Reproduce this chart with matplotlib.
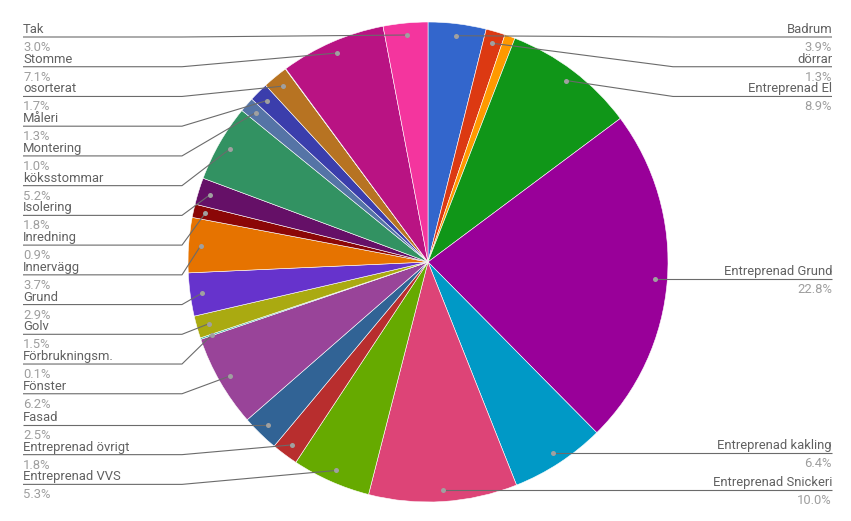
import matplotlib.pyplot as plt
import numpy as np

# slices in drawing order, clockwise from 12 o'clock
labels = ['Badrum', 'dörrar', '', 'Entreprenad El', 'Entreprenad Grund',
          'Entreprenad kakling', 'Entreprenad Snickeri', 'Entreprenad VVS',
          'Entreprenad övrigt', 'Fasad', 'Fönster', 'Förbrukningsm.', 'Golv',
          'Grund', 'Innervägg', 'Inredning', 'Isolering', 'köksstommar',
          'Montering', 'Måleri', 'osorterat', '', 'Stomme', 'Tak']
shares = [3.9, 1.3, 0.7, 8.9, 22.8, 6.4, 10.0, 5.3, 1.8, 2.5, 6.2, 0.1, 1.5,
          2.9, 3.7, 0.9, 1.8, 5.2, 1.0, 1.3, 1.7, 0.03, 7.1, 3.0]
colors = ['#3366cc', '#dc3912', '#ff9900', '#109618', '#990099', '#0099c6',
          '#dd4477', '#66aa00', '#b82e2e', '#316395', '#994499', '#22aa99',
          '#aaaa11', '#6633cc', '#e67300', '#8b0707', '#651067', '#329262',
          '#5574a6', '#3b3eac', '#b77322', '#16d620', '#b91383', '#f4359e']

W, H = 851, 521
cx, cy, R = 428, H - 262, 240
gap = 29.73
top_line = H - 37

plt.rcParams['font.family'] = ['Roboto', 'DejaVu Sans']
fig = plt.figure(figsize=(W / 100, H / 100), dpi=100)
ax = fig.add_axes([0, 0, 1, 1])
ax.set_xlim(0, W)
ax.set_ylim(0, H)
ax.axis('off')

wedges, _ = ax.pie(shares, colors=colors, startangle=90, counterclock=False,
                   center=(cx, cy), radius=R,
                   wedgeprops=dict(edgecolor='white', linewidth=0.4))
ax.set_xlim(0, W)
ax.set_ylim(0, H)
ax.set_aspect('equal')

left, right = [], []
for w, lab, v in zip(wedges, labels, shares):
    if not lab:
        continue
    th = np.deg2rad((w.theta1 + w.theta2) / 2)
    px, py = cx + 0.95 * R * np.cos(th), cy + 0.95 * R * np.sin(th)
    item = [lab, v, px, py]
    (left if px < cx else right).append(item)


def place(items):
    items.sort(key=lambda it: -it[3])
    prev = None
    out = []
    for it in items:
        y = min(it[3], top_line)
        if prev is not None:
            y = min(y, prev - gap)
        prev = y
        out.append(it + [y])
    return out


name_c, pct_c, line_c = '#616161', '#9e9e9e', '#6b6b6b'
fs = 9.4

for lab, v, px, py, ly in place(left):
    ax.plot([23, 182, px], [ly, ly, py], color=line_c, lw=0.8,
            solid_capstyle='butt', zorder=3)
    ax.plot(px, py, 'o', ms=3.6, color='#a0a0a0', mec='none', zorder=4)
    ax.text(23, ly + 4, lab, ha='left', va='baseline', fontsize=fs, color=name_c)
    ax.text(23, ly - 4, f'{v:.1f}%', ha='left', va='top', fontsize=fs, color=pct_c)

for lab, v, px, py, ly in place(right):
    ax.plot([832, 673, px], [ly, ly, py], color=line_c, lw=0.8,
            solid_capstyle='butt', zorder=3)
    ax.plot(px, py, 'o', ms=3.6, color='#a0a0a0', mec='none', zorder=4)
    ax.text(832, ly + 4, lab, ha='right', va='baseline', fontsize=fs, color=name_c)
    ax.text(832, ly - 4, f'{v:.1f}%', ha='right', va='top', fontsize=fs, color=pct_c)

fig.savefig('out.png', dpi=100, facecolor='white')
